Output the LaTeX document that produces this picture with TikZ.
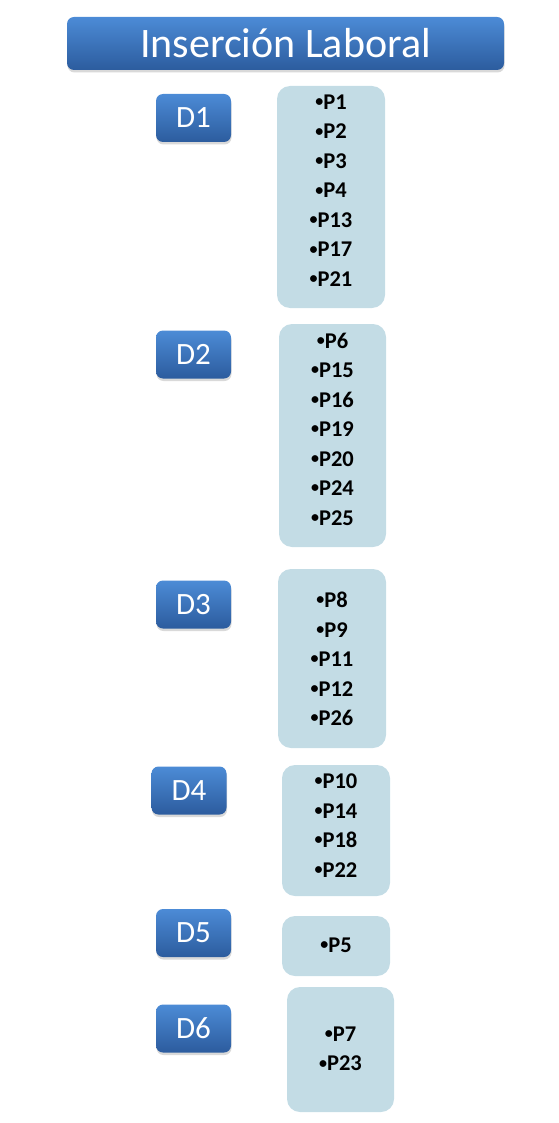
\documentclass[tikz,border=0pt]{standalone}
\usepackage{fontspec}
\setmainfont{Carlito}
\usetikzlibrary{shadows}
\definecolor{btop}{HTML}{4C8BD6}
\definecolor{bbot}{HTML}{2C5C9E}
\definecolor{listbg}{HTML}{C3DCE5}
\newcommand{\bl}{\raisebox{2.8pt}{\fontsize{16}{16}\selectfont •}}
\tikzset{
  dbox/.style={rounded corners=7pt, top color=btop, bottom color=bbot, draw=none,
    text=white, drop shadow={shadow xshift=0.5pt, shadow yshift=-2.5pt, opacity=0.25, fill=black!60},
    minimum width=75pt, minimum height=48pt, inner sep=0pt, font=\fontsize{31}{33}\selectfont},
  listbox/.style={rounded corners=13pt, fill=listbg, draw=none, inner sep=0pt},
  items/.style={align=center, inner sep=0pt, font=\bfseries\fontsize{22.5}{29.5}\selectfont}
}
\begin{document}
\begin{tikzpicture}[x=1pt,y=-1pt]
\useasboundingbox (0,0) rectangle (558,1123);
\node[dbox, minimum width=437pt, minimum height=53pt, font=\fontsize{42}{44}\selectfont] (title) at (285.5,43.5) {Inserción Laboral};

\node[dbox] (D1) at (193.5,118) {D1};
\node[listbox, minimum width=108pt, minimum height=222pt] (L1) at (331,197) {};
\node[items] (I1) at (331,190.5) {\bl P1\\\bl P2\\\bl P3\\\bl P4\\\bl P13\\\bl P17\\\bl P21};

\node[dbox] (D2) at (193.5,354.5) {D2};
\node[listbox, minimum width=107pt, minimum height=223pt] (L2) at (332.5,435.5) {};
\node[items] (I2) at (332.5,429) {\bl P6\\\bl P15\\\bl P16\\\bl P19\\\bl P20\\\bl P24\\\bl P25};

\node[dbox] (D3) at (193.5,604.5) {D3};
\node[listbox, minimum width=108pt, minimum height=179pt] (L3) at (332,658.5) {};
\node[items] (I3) at (332,659) {\bl P8\\\bl P9\\\bl P11\\\bl P12\\\bl P26};

\node[dbox] (D4) at (189,790.5) {D4};
\node[listbox, minimum width=108pt, minimum height=131pt] (L4) at (336,830.5) {};
\node[items] (I4) at (336,825.5) {\bl P10\\\bl P14\\\bl P18\\\bl P22};

\node[dbox] (D5) at (193.5,933) {D5};
\node[listbox, minimum width=108pt, minimum height=60pt] (L5) at (336,946) {};
\node[items] (I5) at (336,945.5) {\bl P5};

\node[dbox] (D6) at (193.5,1028.5) {D6};
\node[listbox, minimum width=107pt, minimum height=125pt] (L6) at (340.5,1049.5) {};
\node[items] (I6) at (340.5,1049) {\bl P7\\\bl P23};
\end{tikzpicture}
\end{document}
